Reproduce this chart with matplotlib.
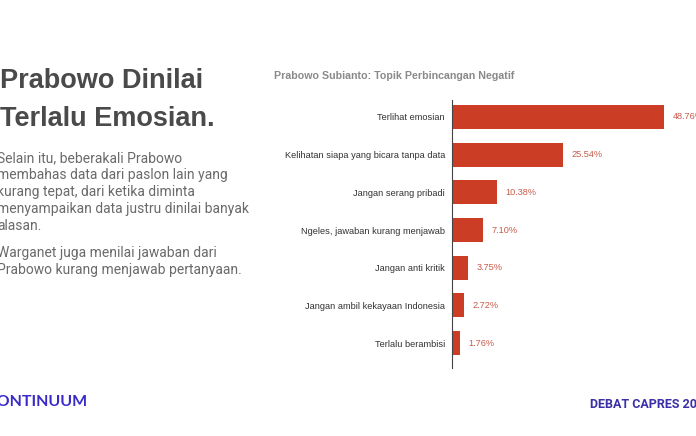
import matplotlib
matplotlib.use("Agg")
import matplotlib.pyplot as plt

categories = ["Terlihat emosian", "Kelihatan siapa yang bicara tanpa data",
              "Jangan serang pribadi", "Ngeles, jawaban kurang menjawab",
              "Jangan anti kritik", "Jangan ambil kekayaan Indonesia",
              "Terlalu berambisi"]
values = [48.76, 25.54, 10.38, 7.10, 3.75, 2.72, 1.76]
value_labels = ["48.76%", "25.54%", "10.38%", "7.10%", "3.75%", "2.72%", "1.76%"]

W, H = 696, 436
fig = plt.figure(figsize=(W / 100, H / 100), dpi=100)
fig.patch.set_facecolor("white")

def fx(px):
    return px / W

def fy(py):
    return 1 - py / H

# chart axes
left, right, top, bottom = 452, 696, 100, 368
ax = fig.add_axes([fx(left), fy(bottom), fx(right - left), (bottom - top) / H])
ypos = list(range(len(categories)))
ax.barh(ypos, values, height=0.64, color="#CC3D26")
ax.set_ylim(6.66, -0.45)
ax.set_xlim(0, (right - left) / 4.35)
for s in ["top", "right", "bottom"]:
    ax.spines[s].set_visible(False)
ax.spines["left"].set_color("#444444")
ax.spines["left"].set_linewidth(0.8)
ax.set_xticks([])
ax.set_yticks(ypos)
ax.set_yticklabels(categories, fontsize=6.7, color="#333333", family="Liberation Sans")
ax.tick_params(axis="y", length=0, pad=5)
for y, v, lab in zip(ypos, values, value_labels):
    ax.text(v + 1.9, y, lab, va="center", ha="left", fontsize=6.6,
            color="#C85A4A", family="Liberation Sans", clip_on=False)

# chart title
fig.text(fx(274), fy(76), "Prabowo Subianto: Topik Perbincangan Negatif",
         fontsize=7.7, color="#8A8A8A", fontweight="bold", family="Liberation Sans",
         va="center", ha="left")

# heading
fig.text(fx(0), fy(81), "Prabowo Dinilai", fontsize=19.5, fontweight="bold",
         color="#4A4A4A", family="Liberation Sans", va="center", ha="left")
fig.text(fx(0), fy(119), "Terlalu Emosian.", fontsize=19.5, fontweight="bold",
         color="#4A4A4A", family="Liberation Sans", va="center", ha="left")

body1 = ["Selain itu, beberakali Prabowo",
         "membahas data dari paslon lain yang",
         "kurang tepat, dari ketika diminta",
         "menyampaikan data justru dinilai banyak",
         "alasan."]
body2 = ["Warganet juga menilai jawaban dari",
         "Prabowo kurang menjawab pertanyaan."]
for i, line in enumerate(body1):
    fig.text(fx(-3), fy(158 + i * 17.0), line, fontsize=10, color="#6A6A6A",
             family="Roboto", va="center", ha="left")
for i, line in enumerate(body2):
    fig.text(fx(-3), fy(253 + i * 17.0), line, fontsize=10, color="#6A6A6A",
             family="Roboto", va="center", ha="left")

# footer
fig.text(fx(-14), fy(402), "CONTINUUM", fontsize=11.5, color="#3A2BC8",
         family="Lato", fontweight="bold", va="center", ha="left")
fig.text(fx(590), fy(404), "DEBAT CAPRES 2024", fontsize=9, color="#3A2FA8",
         family="Roboto", fontweight="bold", va="center", ha="left")

fig.savefig("out.png", dpi=100, facecolor="white")
